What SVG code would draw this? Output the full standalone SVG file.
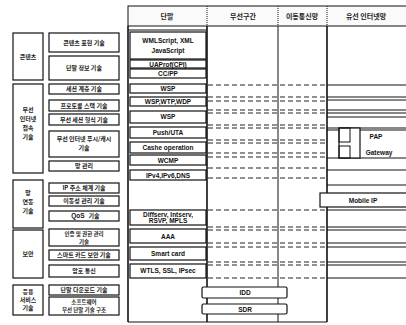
<svg xmlns="http://www.w3.org/2000/svg" width="406" height="325" viewBox="0 0 406 325">
<style>
.bx{fill:#fff;stroke:#111;stroke-width:1.2}
.ln{stroke:#111;stroke-width:1;fill:none}
.tk{stroke:#111;stroke-width:1.6;fill:none}
.ds{stroke:#222;stroke-width:1;stroke-dasharray:5,3;fill:none}
.t{font-family:"Noto Sans CJK KR","Liberation Sans",sans-serif;font-size:6px;font-weight:bold;fill:#222;text-anchor:middle}
.s{font-size:5.5px}
.e{font-family:"Liberation Sans",Arial,sans-serif;font-size:6.5px;font-weight:bold;fill:#111;text-anchor:middle}
.h{font-family:"Noto Sans CJK KR",sans-serif;font-size:7px;font-weight:bold;fill:#222;text-anchor:middle}
</style>
<rect width="406" height="325" fill="#fff"/>

<!-- left groups -->
<g id="g1"><rect class="bx" x="13" y="33" width="30" height="47"/><text class="t" x="28" y="59">콘텐츠</text></g>
<g id="g2"><rect class="bx" x="13" y="84" width="30" height="89"/><text class="t" x="28" y="112">무선</text><text class="t" x="28" y="121">인터넷</text><text class="t" x="28" y="130">접속</text><text class="t" x="28" y="139">기술</text></g>
<g id="g3"><rect class="bx" x="13" y="180" width="30" height="48"/><text class="t" x="28" y="195">망</text><text class="t" x="28" y="204">연동</text><text class="t" x="28" y="213">기술</text></g>
<g id="g4"><rect class="bx" x="13" y="230" width="30" height="48"/><text class="t" x="28" y="256">보안</text></g>
<g id="g5"><rect class="bx" x="13" y="285" width="30" height="30"/><text class="t" x="28" y="294">응용</text><text class="t" x="28" y="302">서비스</text><text class="t" x="28" y="310">기술</text></g>

<!-- left items -->
<g id="i1"><rect class="bx" x="49" y="33" width="70" height="19"/><text class="t" x="84" y="45">콘텐츠 표현 기술</text></g>
<g id="i2"><rect class="bx" x="49" y="56" width="70" height="24"/><text class="t" x="84" y="70">단말 정보 기술</text></g>
<g id="i3"><rect class="bx" x="49" y="84" width="70" height="10"/><text class="t" x="84" y="91">세션 계층 기술</text></g>
<g id="i4"><rect class="bx" x="49" y="100" width="70" height="11"/><text class="t" x="84" y="108">프로토콜 스택 기술</text></g>
<g id="i5"><rect class="bx" x="49" y="114" width="70" height="11"/><text class="t" x="84" y="122">무선 세션 형식 기술</text></g>
<g id="i6"><rect class="bx" x="49" y="131" width="70" height="26"/><text class="t" x="84" y="141">무선 인터넷 푸시/캐시</text><text class="t" x="84" y="150">기술</text></g>
<g id="i7"><rect class="bx" x="49" y="161" width="70" height="10"/><text class="t" x="84" y="168">망 관리</text></g>
<g id="i8"><rect class="bx" x="49" y="183" width="70" height="10"/><text class="t" x="84" y="190">IP 주소 체계 기술</text></g>
<g id="i9"><rect class="bx" x="49" y="196" width="70" height="10"/><text class="t" x="84" y="203">이동성 관리 기술</text></g>
<g id="i10"><rect class="bx" x="49" y="211" width="70" height="10"/><text class="e" x="78" y="218">QoS</text><text class="t" x="94" y="218">기술</text></g>
<g id="i11"><rect class="bx" x="49" y="229" width="70" height="17"/><text class="t s" x="84" y="235.5">인증 및 권한 관리</text><text class="t s" x="84" y="243.5">기술</text></g>
<g id="i12"><rect class="bx" x="49" y="250" width="70" height="10"/><text class="t" x="84" y="257">스마트 카드 보안 기술</text></g>
<g id="i13"><rect class="bx" x="49" y="265" width="70" height="12"/><text class="t" x="84" y="273">암호 통신</text></g>
<g id="i14"><rect class="bx" x="49" y="285" width="70" height="10"/><text class="t" x="84" y="292">단말 다운로드 기술</text></g>
<g id="i15"><rect class="bx" x="49" y="297" width="70" height="18"/><text class="t s" x="84" y="304">소프트웨어</text><text class="t s" x="84" y="312">무선 단말 기술 구조</text></g>

<!-- table frame -->
<g id="table">
<rect x="128" y="6" width="280" height="20" fill="#fafafa" stroke="#111" stroke-width="1"/>
<line class="ln" x1="207" y1="6" x2="207" y2="26" stroke-dasharray="1,1"/>
<line class="ln" x1="278" y1="6" x2="278" y2="26" stroke-dasharray="1,1"/>
<line class="ln" x1="327" y1="6" x2="327" y2="26" stroke-dasharray="1,1"/>
<text class="h" x="167" y="19">단말</text>
<text class="h" x="243" y="19">무선구간</text>
<text class="h" x="302" y="19">이동통신망</text>
<text class="h" x="366" y="19">유선 인터넷망</text>
<line class="tk" x1="128" y1="26" x2="128" y2="322"/>
<line class="ln" x1="128" y1="322" x2="327" y2="322"/>
<line class="ln" x1="128" y1="30" x2="207" y2="30"/>
<line class="tk" x1="207" y1="26" x2="207" y2="322"/>
<line class="ln" x1="278" y1="26" x2="278" y2="322"/>
<line class="tk" x1="327" y1="26" x2="327" y2="322"/>
</g>

<!-- terminal column boxes -->
<g id="t1"><rect class="bx" x="130" y="32" width="76" height="27"/><text class="e" x="168" y="43">WMLScript, XML</text><text class="e" x="168" y="53">JavaScript</text></g>
<g id="t2"><rect class="bx" x="130" y="60" width="76" height="8"/><text class="e" x="168" y="66.5" font-size="6">UAProf(CPI)</text></g>
<g id="t3"><rect class="bx" x="130" y="69" width="76" height="9"/><text class="e" x="168" y="76">CC/PP</text></g>
<g id="t4"><rect class="bx" x="130" y="84" width="76" height="9"/><text class="e" x="168" y="91">WSP</text></g>
<g id="t5"><rect class="bx" x="130" y="97" width="76" height="9"/><text class="e" x="168" y="104">WSP,WTP,WDP</text></g>
<g id="t6"><rect class="bx" x="130" y="111" width="76" height="12"/><text class="e" x="168" y="119">WSP</text></g>
<g id="t7"><rect class="bx" x="130" y="127" width="76" height="11"/><text class="e" x="168" y="135">Push/UTA</text></g>
<g id="t8"><rect class="bx" x="130" y="142" width="76" height="11"/><text class="e" x="168" y="150">Cashe operation</text></g>
<g id="t9"><rect class="bx" x="130" y="155" width="76" height="10"/><text class="e" x="168" y="162.5">WCMP</text></g>
<g id="t10"><rect class="bx" x="130" y="170" width="76" height="10"/><text class="e" x="168" y="177.5">IPv4,IPv6,DNS</text></g>
<g id="t11"><rect class="bx" x="130" y="210" width="76" height="15"/><text class="e" x="168" y="216.5">Diffserv, Intserv,</text><text class="e" x="168" y="223">RSVP, MPLS</text></g>
<g id="t12"><rect class="bx" x="130" y="229" width="76" height="14"/><text class="e" x="168" y="238.5">AAA</text></g>
<g id="t13"><rect class="bx" x="130" y="247" width="76" height="13"/><text class="e" x="168" y="256">Smart card</text></g>
<g id="t14"><rect class="bx" x="130" y="264" width="76" height="14"/><text class="e" x="168" y="273">WTLS, SSL, IPsec</text></g>

<!-- connectors: dashed in wireless/mobile, solid in wired -->
<g id="connectors">
<path class="ds" d="M208 85H327M208 97H327M208 101H327M208 110H327M208 113H327M208 125H327M208 128H327M208 140H327M208 143H327M208 153H327M208 157H327M208 168H327M208 178H327M208 210H327M208 227H327M208 230H327M208 243H327M208 247H327M208 262H327M208 265H327M208 278H327"/>
<path class="ln" d="M327 85H406M327 97H406M327 100H406M327 110H406M327 113H406M327 117H406M327 128H406M327 130H406M327 158H406M327 170H406M327 185H406M327 210H406M327 227H406M327 230H406M327 243H406M327 247H406M327 262H406M327 265H406M327 278H406"/>
</g>

<g id="pap"><rect class="bx" x="339" y="128" width="21" height="30"/><rect class="ln" x="339" y="128" width="11" height="14"/><rect class="ln" x="339" y="146" width="11" height="12"/><text class="e" x="376" y="139">PAP</text><text class="e" x="379" y="155" font-weight="normal">Gateway</text></g>
<g id="mip"><rect class="bx" x="320" y="193" width="88" height="14"/><text class="e" x="363" y="202.5" font-weight="normal">Mobile IP</text></g>
<g id="idd"><rect class="bx" x="202" y="287" width="85" height="11" rx="1.5"/><text class="e" x="245" y="295" font-weight="normal">IDD</text></g>
<g id="sdr"><rect class="bx" x="202" y="304" width="85" height="10" rx="1.5"/><text class="e" x="245" y="311.5" font-weight="normal">SDR</text></g>
</svg>
